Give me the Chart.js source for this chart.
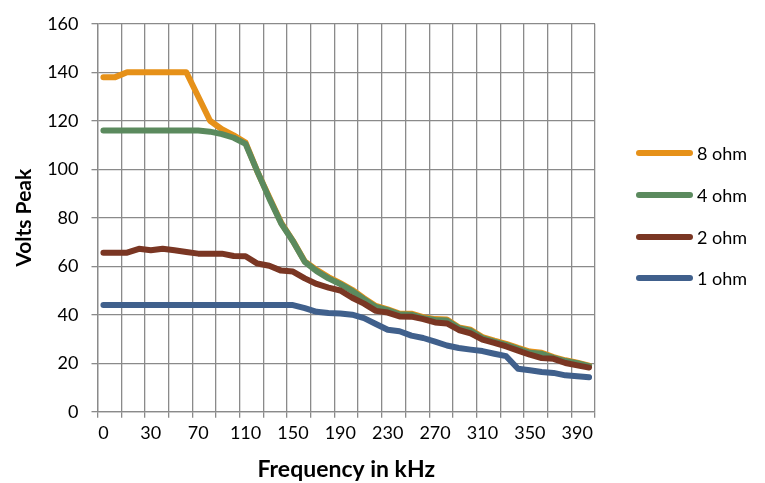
<!DOCTYPE html>
<html>
<head>
<meta charset="utf-8">
<script src="https://cdn.jsdelivr.net/npm/chart.js@4.4.1/dist/chart.umd.min.js"></script>
<style>
  body { margin: 0; background: #fff; }
  #wrap { position: relative; width: 765px; height: 483px; }
  #chart { position: absolute; left: 0; top: 0; }
  .legend { position: absolute; left: 636px; top: 0; width: 120px; height: 483px; font-family: Lato, sans-serif; font-size: 18px; color: #000; }
  .legend div { position: absolute; left: 0; height: 24px; width: 120px; white-space: nowrap; }
  .legend span.swatch { position: absolute; left: 0; top: 9px; width: 57px; height: 6px; border-radius: 3px; }
  .legend span.txt { position: absolute; left: 61px; top: 0; line-height: 24px; }
</style>
</head>
<body>
<div id="wrap">
  <canvas id="chart" width="765" height="483"></canvas>
  <div class="legend" id="legend"></div>
</div>
<script>
// Частоты (кГц) — подписи по оси X
const categories = ['0', '5', '10', '20', '30', '40', '50', '60', '70', '80', '90', '100',
    '110', '120', '130', '140', '150', '160', '170', '180', '190', '200', '210', '220',
    '230', '240', '250', '260', '270', '280', '290', '300', '310', '320', '330', '340',
    '350', '360', '370', '380', '390', '400'];

// Значения напряжения (В пик) для каждой нагрузки
const ohm8 = [138, 138, 140, 140, 140, 140, 140, 140, 130, 120, 116.5, 114,
    111, 99, 88.5, 78, 70.5, 62, 58.5, 55.5, 53, 50.3, 46.8, 43.6,
    42.2, 40.5, 40.4, 39, 38.2, 38, 34.8, 33.8, 30.8, 29.3, 28, 26.3,
    24.8, 24.3, 22.5, 21.2, 20.2, 19];
const ohm4 = [116, 116, 116, 116, 116, 116, 116, 116, 116, 115.5, 114.5, 113,
    110.5, 99, 88, 77.7, 70.3, 61.8, 58, 55, 52.6, 49.8, 46.4, 43.2,
    41.9, 40.2, 40, 38.6, 37.8, 37.6, 34.5, 33.4, 30.4, 28.9, 27.6, 25.9,
    24.3, 23.9, 22.2, 20.9, 20, 18.8];
const ohm2 = [65.6, 65.6, 65.6, 67.2, 66.6, 67.2, 66.6, 65.9, 65.2, 65.2, 65.2, 64.2,
    64.1, 61.1, 60.2, 58.2, 57.8, 55, 52.7, 51.2, 50, 47, 44.6, 41.6,
    40.9, 39.3, 39.2, 38.2, 36.8, 36.4, 33.7, 32.3, 29.7, 28.4, 26.9, 25.2,
    23.5, 22.1, 21.8, 20.1, 19.1, 18.2];
const ohm1 = [44, 44, 44, 44, 44, 44, 44, 44, 44, 44, 44, 44,
    44, 44, 44, 44, 44, 42.7, 41.2, 40.7, 40.5, 40, 38.6, 36.2,
    33.8, 33.2, 31.4, 30.4, 28.9, 27.3, 26.3, 25.6, 25, 23.9, 22.9, 17.7,
    17.1, 16.4, 16, 15, 14.6, 14.2];

const yTicks = [0, 20, 40, 60, 80, 100, 120, 140, 160];

const seriesNames = ['8 ohm', '4 ohm', '2 ohm', '1 ohm'];
const seriesData = [ohm8, ohm4, ohm2, ohm1];
const seriesColors = ['#E69119', '#5B8A5E', '#7A3623', '#40608C'];

const gridColor = '#8a8a8a';
const tickFont = { family: 'Lato', size: 18 };

// 1 ohm рисуем первым в массиве, чтобы он был сверху (Chart.js рисует dataset 0 последним)
const datasets = seriesNames.map((name, i) => ({
    label: name,
    data: seriesData[i],
    borderColor: seriesColors[i],
    backgroundColor: seriesColors[i],
    borderWidth: 6,
    borderJoinStyle: 'round',
    borderCapStyle: 'round',
    pointRadius: 0,
    tension: 0,
    fill: false
})).reverse();

const ctx = document.getElementById('chart').getContext('2d');
new Chart(ctx, {
    type: 'line',
    data: { labels: categories, datasets: datasets },
    options: {
        responsive: false,
        animation: false,
        layout: { padding: { left: 0, top: 20.7, right: 170, bottom: 0 } },
        plugins: { legend: { display: false }, tooltip: { enabled: false } },
        scales: {
            x: {
                type: 'category',
                offset: true,
                grid: {
                    offset: true,
                    color: c => (c.index % 2 === 1) ? 'rgba(0,0,0,0)' : gridColor,
                    lineWidth: 1.3,
                    tickLength: 6
                },
                border: { color: gridColor, width: 1.3 },
                ticks: {
                    autoSkip: false,
                    maxRotation: 0,
                    padding: 5,
                    color: '#000',
                    font: tickFont,
                    callback: (v, i) => (i % 4 === 0 ? categories[i] : '')
                },
                title: { display: true, text: 'Frequency in kHz', color: '#000',
                    font: { family: 'Lato', size: 23, weight: 'bold' }, padding: { top: 0, bottom: 0 } },
                afterFit: s => { s.height = 71.3; }
            },
            y: {
                min: 0,
                max: 160,
                afterBuildTicks: s => { s.ticks = yTicks.map(v => ({ value: v })); },
                grid: { color: gridColor, lineWidth: 1.3, tickLength: 6 },
                border: { color: gridColor, width: 1.3 },
                ticks: { padding: 13, color: '#000', font: tickFont },
                title: { display: true, text: 'Volts Peak', color: '#000',
                    font: { family: 'Lato', size: 21, weight: 'bold' }, padding: { top: 12, bottom: 0 } },
                afterFit: s => { s.width = 97.5; }
            }
        }
    }
});

// Легенда справа
const legendTops = [153.3, 195, 237.3, 278.3];
const legend = document.getElementById('legend');
seriesNames.forEach((name, i) => {
    const row = document.createElement('div');
    row.style.top = (legendTops[i] - 12) + 'px';
    row.innerHTML = '<span class="swatch" style="background:' + seriesColors[i] + '"></span><span class="txt">' + name + '</span>';
    legend.appendChild(row);
});
</script>
</body>
</html>
